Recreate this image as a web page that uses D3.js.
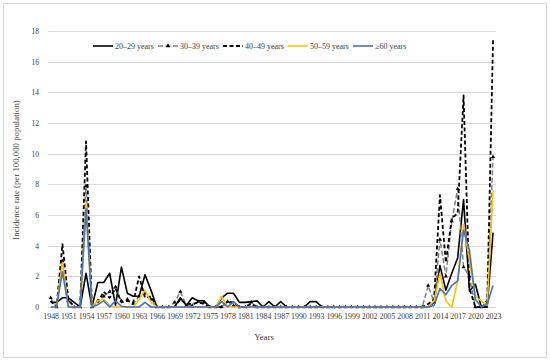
<!DOCTYPE html>
<html>
<head>
<meta charset="utf-8">
<script src="https://cdn.jsdelivr.net/npm/d3@7/dist/d3.min.js"></script>
<style>
  html, body { margin: 0; padding: 0; background: #fff; }
  svg { display: block; }
  text { font-family: "Liberation Serif", "Times New Roman", serif; fill: #404040; }
</style>
</head>
<body>
<svg id="chart" width="550" height="362"></svg>
<script>
const years = [1948,1949,1950,1951,1952,1953,1954,1955,1956,1957,1958,1959,1960,1961,1962,1963,1964,1965,1966,1967,
  1968,1969,1970,1971,1972,1973,1974,1975,1976,1977,1978,1979,1980,1981,1982,1983,1984,1985,1986,1987,
  1988,1989,1990,1991,1992,1993,1994,1995,1996,1997,1998,1999,2000,2001,2002,2003,2004,2005,2006,2007,
  2008,2009,2010,2011,2012,2013,2014,2015,2016,2017,2018,2019,2020,2021,2022,2023];

const tickYears = [1948,1951,1954,1957,1960,1963,1966,1969,1972,1975,1978,1981,1984,1987,1990,1993,1996,1999,2002,2005,2008,2011,2014,2017,2020,2023];
const yTicks = [0,2,4,6,8,10,12,14,16,18];

const age20_29 = [0.3,0.3,0.6,0.6,0.3,0,2.2,0,1.6,1.6,
  2.2,0.1,2.6,0.9,0.7,0.7,2.1,1.1,0,0,
  0,0,0.6,0.1,0.6,0.4,0.4,0,0,0.6,
  0.9,0.9,0.3,0.3,0.35,0.4,0,0.35,0,0.35,
  0,0,0,0,0.35,0.35,0,0,0,0,
  0,0,0,0,0,0,0,0,0,0,
  0,0,0,0,0,0.3,2.7,1.1,2.2,3.2,
  7.0,1.05,1.5,0,0,4.85];

const age30_39 = [0.6,0,3.0,0.4,0,0,7.9,0,0.4,0.7,
  1.0,1.3,0.4,0.5,0.2,0.7,0.9,0.5,0,0,
  0,0.3,1.0,0.1,0.1,0.35,0.3,0,0,0,
  0.35,0.1,0,0,0.3,0,0,0,0,0,
  0,0,0,0,0,0,0,0,0,0,
  0,0,0,0,0,0,0,0,0,0,
  0,0,0,0,1.4,0.3,4.4,2.0,5.6,7.7,
  2.6,2.0,0,0,0.4,9.8];

const age40_49 = [0.4,0,4.1,0.5,0,0,10.8,0,0.3,1.0,
  0.6,1.2,0.3,0.4,0.3,2.0,0.6,0.7,0,0,
  0,0,0.5,0.2,0.2,0.3,0.2,0,0,0,
  0.35,0.3,0,0,0.2,0,0,0,0,0,
  0,0,0,0,0,0,0,0,0,0,
  0,0,0,0,0,0,0,0,0,0,
  0,0,0,0,0.2,0.5,7.3,2.9,5.8,6.1,
  13.8,1.2,0,0,0,17.4];

const age50_59 = [0,0,2.9,0,0,0,6.8,0,0.4,0.5,
  0.1,0,0,0,0,0.5,1.1,0.3,0,0,
  0,0,0,0,0,0,0,0,0,0.7,
  0,0,0,0,0,0,0,0,0,0,
  0,0,0,0,0,0,0,0,0,0,
  0,0,0,0,0,0,0,0,0,0,
  0,0,0,0,0,0.4,2.2,0.4,0,1.7,
  5.4,3.0,0.7,0.4,0.1,7.6];

const age60plus = [0,0,2.3,0,0,0,6.4,0,0.15,0.4,
  0,0.4,0.05,0,0,0,0.3,0,0,0,
  0,0,0,0,0,0,0,0,0,0.35,
  0,0.35,0,0,0,0,0,0,0,0,
  0,0,0,0,0,0,0,0,0,0,
  0,0,0,0,0,0,0,0,0,0,
  0,0,0,0,0,0.1,1.2,0.8,1.4,1.7,
  5.0,3.7,0.5,0,0.2,1.4];

const seriesNames = ["20\u201329 years","30\u201339 years","40\u201349 years","50\u201359 years","\u226560 years"];
const seriesColors = ["#000000","#808080","#000000","#FFC000","#4472C4"];
const seriesDash = [null,"5,2.5","4,2.5",null,null];
const seriesWidth = [1.6,1.5,1.8,1.6,1.6];
const seriesValues = [age20_29, age30_39, age40_49, age50_59, age60plus];

const svg = d3.select("#chart");

// chart area border
svg.append("rect").attr("x",3.5).attr("y",3.5).attr("width",543).attr("height",354)
  .attr("fill","none").attr("stroke","#d9d9d9").attr("stroke-width",1);

const plotLeft = 47.7, plotRight = 496, plotTop = 31, plotBottom = 307;

const x = d3.scalePoint().domain(years).range([plotLeft, plotRight]).padding(0.5);
const y = d3.scaleLinear().domain([0, 18]).range([plotBottom, plotTop]);

// gridlines
svg.append("g").selectAll("line").data(yTicks).join("line")
  .attr("x1", plotLeft).attr("x2", plotRight)
  .attr("y1", d => Math.round(y(d)) + 0.5).attr("y2", d => Math.round(y(d)) + 0.5)
  .attr("stroke", "#d9d9d9").attr("stroke-width", 1);

// y axis labels
const yAxis = d3.axisLeft(y).tickValues(yTicks).tickSize(0).tickPadding(0);
const gy = svg.append("g").attr("transform", `translate(39,0)`).call(yAxis);
gy.select(".domain").remove();
gy.selectAll("text").attr("font-size", 7.6).attr("font-family", "Liberation Serif").attr("fill", "#404040");

// x axis labels
const xAxis = d3.axisBottom(x).tickValues(tickYears).tickSize(0).tickPadding(0);
const gx = svg.append("g").attr("transform", `translate(0,313)`).call(xAxis);
gx.select(".domain").remove();
gx.selectAll("text").attr("font-size", 7.9).attr("font-family", "Liberation Serif").attr("fill", "#404040");

// axis titles
svg.append("text").attr("x", 264).attr("y", 340).attr("text-anchor","middle")
  .attr("font-size", 8.8).text("Years");
svg.append("text").attr("transform","translate(19,170) rotate(-90)").attr("text-anchor","middle")
  .attr("font-size", 8.8).text("Incidence rate (per 100,000 population)");

// lines
const line = d3.line().x((d,i) => x(years[i])).y(d => y(d));
seriesValues.forEach((vals, s) => {
  const g = svg.append("g");
  g.append("path").datum(vals).attr("d", line)
    .attr("fill","none").attr("stroke", seriesColors[s]).attr("stroke-width", seriesWidth[s])
    .attr("stroke-dasharray", seriesDash[s]).attr("stroke-linejoin","round");
  if (s === 1) {
    const tri = d3.symbol().type(d3.symbolTriangle).size(7);
    g.selectAll("path.m").data(vals).join("path").attr("class","m")
      .attr("d", tri)
      .attr("transform", (d,i) => `translate(${x(years[i])},${y(d)})`)
      .attr("fill", "#000");
  }
});

// legend
const legendX = [93, 158, 223, 288, 353];
const legY = 46;
const leg = svg.append("g");
seriesNames.forEach((name, s) => {
  leg.append("line").attr("x1", legendX[s]).attr("x2", legendX[s] + 20)
    .attr("y1", legY).attr("y2", legY)
    .attr("stroke", seriesColors[s]).attr("stroke-width", seriesWidth[s])
    .attr("stroke-dasharray", seriesDash[s]);
  if (s === 1) {
    leg.append("path").attr("d", d3.symbol().type(d3.symbolTriangle).size(9)())
      .attr("transform", `translate(${legendX[s] + 10},${legY})`).attr("fill","#000");
  }
  leg.append("text").attr("x", legendX[s] + 22).attr("y", legY + 2.7)
    .attr("font-size", 8).text(name);
});
</script>
</body>
</html>
